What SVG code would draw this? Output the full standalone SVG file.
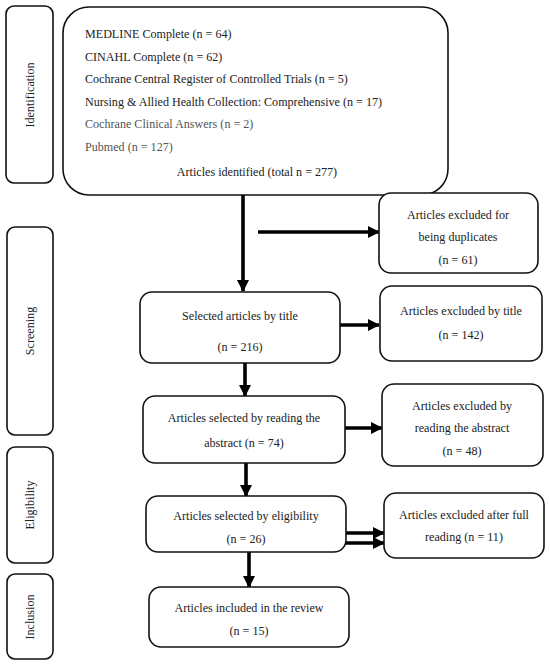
<svg xmlns="http://www.w3.org/2000/svg" width="550" height="666" viewBox="0 0 550 666">
<style>
.box{fill:#fff;stroke:#111;stroke-width:1.6}
.t{font-family:"Liberation Serif","DejaVu Serif",serif;font-size:12.1px;fill:#222}
.g{fill:#555}
.c{text-anchor:middle}
.arr{stroke:#000;stroke-width:3.6;fill:none}
</style>
<defs>
<marker id="ah" markerUnits="userSpaceOnUse" markerWidth="12" markerHeight="12" viewBox="0 0 12 12" refX="11" refY="6" orient="auto">
<path d="M0,0 L12,6 L0,12 Z" fill="#000"/>
</marker>
</defs>
<rect width="550" height="666" fill="#fff"/>
<g id="stage-identification">
<rect class="box" x="6" y="6" width="47" height="177" rx="8"/>
<text class="t c" transform="translate(34,95) rotate(-90)">Identification</text>
</g>
<g id="stage-screening">
<rect class="box" x="7" y="227" width="46" height="208" rx="8"/>
<text class="t c" transform="translate(34,331) rotate(-90)">Screening</text>
</g>
<g id="stage-eligibility">
<rect class="box" x="7" y="447" width="46" height="116" rx="8"/>
<text class="t c" transform="translate(34,505) rotate(-90)">Eligibility</text>
</g>
<g id="stage-inclusion">
<rect class="box" x="7" y="574" width="46" height="85" rx="8"/>
<text class="t c" transform="translate(34,617) rotate(-90)">Inclusion</text>
</g>
<g id="connectors">
<line class="arr" x1="243" y1="195" x2="243" y2="291" marker-end="url(#ah)"/>
<line class="arr" x1="258" y1="232" x2="379" y2="232" marker-end="url(#ah)"/>
<line class="arr" x1="340" y1="325" x2="379" y2="325" marker-end="url(#ah)"/>
<line class="arr" x1="245" y1="363" x2="245" y2="396" marker-end="url(#ah)"/>
<line class="arr" x1="345" y1="428" x2="382" y2="428" marker-end="url(#ah)"/>
<line class="arr" x1="246" y1="463" x2="246" y2="496" marker-end="url(#ah)"/>
<line class="arr" x1="346" y1="533" x2="384" y2="533" marker-end="url(#ah)"/>
<line class="arr" x1="346" y1="543" x2="384" y2="543" marker-end="url(#ah)"/>
<line class="arr" x1="249" y1="552" x2="249" y2="587" marker-end="url(#ah)"/>
</g>
<g id="identified">
<rect class="box" x="63" y="7" width="385" height="188" rx="26"/>
<text class="t" x="85" y="38">MEDLINE Complete (n = 64)</text>
<text class="t" x="85" y="61">CINAHL Complete (n = 62)</text>
<text class="t" x="85" y="83">Cochrane Central Register of Controlled Trials (n = 5)</text>
<text class="t" x="85" y="106">Nursing &amp; Allied Health Collection: Comprehensive (n = 17)</text>
<text class="t g" x="85" y="128">Cochrane Clinical Answers (n = 2)</text>
<text class="t g" x="85" y="151">Pubmed (n = 127)</text>
<text class="t c" x="257" y="176">Articles identified (total n = 277)</text>
</g>
<g id="excluded-duplicates">
<rect class="box" x="379" y="193" width="159" height="80" rx="12"/>
<text class="t c" x="458" y="219">Articles excluded for</text>
<text class="t c" x="458" y="241">being duplicates</text>
<text class="t c" x="458" y="264">(n = 61)</text>
</g>
<g id="selected-title">
<rect class="box" x="140" y="292" width="200" height="71" rx="12"/>
<text class="t c" x="240" y="320">Selected articles by title</text>
<text class="t c" x="240" y="351">(n = 216)</text>
</g>
<g id="excluded-title">
<rect class="box" x="380" y="286" width="162" height="75" rx="12"/>
<text class="t c" x="461" y="315">Articles excluded by title</text>
<text class="t c" x="461" y="339">(n = 142)</text>
</g>
<g id="selected-abstract">
<rect class="box" x="143" y="396" width="202" height="67" rx="12"/>
<text class="t c" x="244" y="422">Articles selected by reading the</text>
<text class="t c" x="244" y="447">abstract (n = 74)</text>
</g>
<g id="excluded-abstract">
<rect class="box" x="382" y="384" width="161" height="82" rx="12"/>
<text class="t c" x="462" y="410">Articles excluded by</text>
<text class="t c" x="462" y="432">reading the abstract</text>
<text class="t c" x="462" y="455">(n = 48)</text>
</g>
<g id="selected-eligibility">
<rect class="box" x="146" y="496" width="200" height="56" rx="12"/>
<text class="t c" x="246" y="520">Articles selected by eligibility</text>
<text class="t c" x="246" y="543">(n = 26)</text>
</g>
<g id="excluded-full">
<rect class="box" x="384" y="493" width="160" height="65" rx="12"/>
<text class="t c" x="464" y="519">Articles excluded after full</text>
<text class="t c" x="464" y="541">reading (n = 11)</text>
</g>
<g id="included">
<rect class="box" x="149" y="587" width="200" height="60" rx="12"/>
<text class="t c" x="249" y="612">Articles included in the review</text>
<text class="t c" x="249" y="635">(n = 15)</text>
</g>
</svg>
